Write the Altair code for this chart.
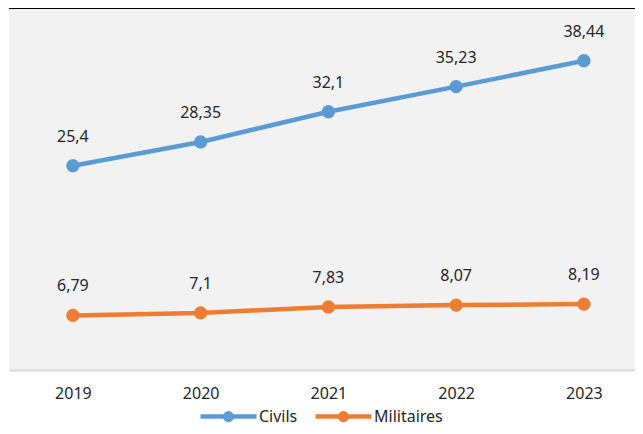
import altair as alt
import pandas as pd

years = [2019, 2020, 2021, 2022, 2023]
civils = [25.4, 28.35, 32.1, 35.23, 38.44]
militaires = [6.79, 7.1, 7.83, 8.07, 8.19]
series_names = ["Civils", "Militaires"]
series_colors = ["#5b9bd5", "#ed7d31"]

rows = []
for name, vals in zip(series_names, [civils, militaires]):
    for yr, v in zip(years, vals):
        rows.append({"year": yr, "value": v, "series": name})
df = pd.DataFrame(rows)

FONT = "Noto Sans"
TXT = "#262626"

xenc = alt.X(
    "year:Q",
    scale=alt.Scale(domain=[2018.5, 2023.4], nice=False, zero=False),
    axis=alt.Axis(
        values=years, format="d", title=None, grid=False, ticks=False, tickSize=0,
        labelPadding=15, labelFontSize=16, labelFont=FONT, labelColor=TXT,
        domainColor="#d9d9d9", domainWidth=2, labelFlush=False, labelOverlap=False,
    ),
)
yscale = alt.Scale(domain=[0, 45], nice=False, zero=True)
yenc = alt.Y("value:Q", scale=yscale, axis=None)

legend_path = (
    "M-1,0L1,0"
    "M-0.043,0a0.043,0.043 0 1,0 0.086,0a0.043,0.043 0 1,0 -0.086,0"
    "M-0.118,0a0.118,0.118 0 1,0 0.236,0a0.118,0.118 0 1,0 -0.236,0"
)

base = alt.Chart(df)

line = base.mark_line(strokeWidth=4.5).encode(
    x=xenc,
    y=yenc,
    color=alt.Color(
        "series:N",
        scale=alt.Scale(domain=series_names, range=series_colors),
        legend=alt.Legend(
            title=None, orient="none", direction="horizontal",
            legendX=189, legendY=378, padding=0,
            symbolType=legend_path, symbolSize=3136, symbolStrokeWidth=4.5,
            labelFont=FONT, labelFontSize=16, labelColor=TXT,
            labelOffset=0, columnPadding=8,
        ),
    ),
)

points = base.mark_circle(size=177, opacity=1).encode(
    x=xenc,
    y=yenc,
    fill=alt.Fill(
        "series:N",
        scale=alt.Scale(domain=series_names, range=series_colors),
        legend=None,
    ),
)

labels = base.transform_calculate(
    lab="replace(toString(datum.value), '.', ',')"
).mark_text(
    dy=-24, baseline="alphabetic", align="center", fontSize=16, font=FONT, color=TXT
).encode(x=xenc, y=yenc, text="lab:N")

top_rule = alt.Chart(pd.DataFrame({"value": [45]})).mark_rule(
    color="black", strokeWidth=2
).encode(y=yenc)

chart = (
    alt.layer(line, points, labels, top_rule)
    .properties(
        width=626,
        height=362,
        autosize=alt.AutoSizeParams(type="none"),
        padding={"left": 1, "top": 0, "right": 0, "bottom": 56},
        background="white",
    )
    .configure_view(fill="#f2f2f2", stroke=None)
)

chart.save("out.html", embed_options={"renderer": "svg", "actions": False})
